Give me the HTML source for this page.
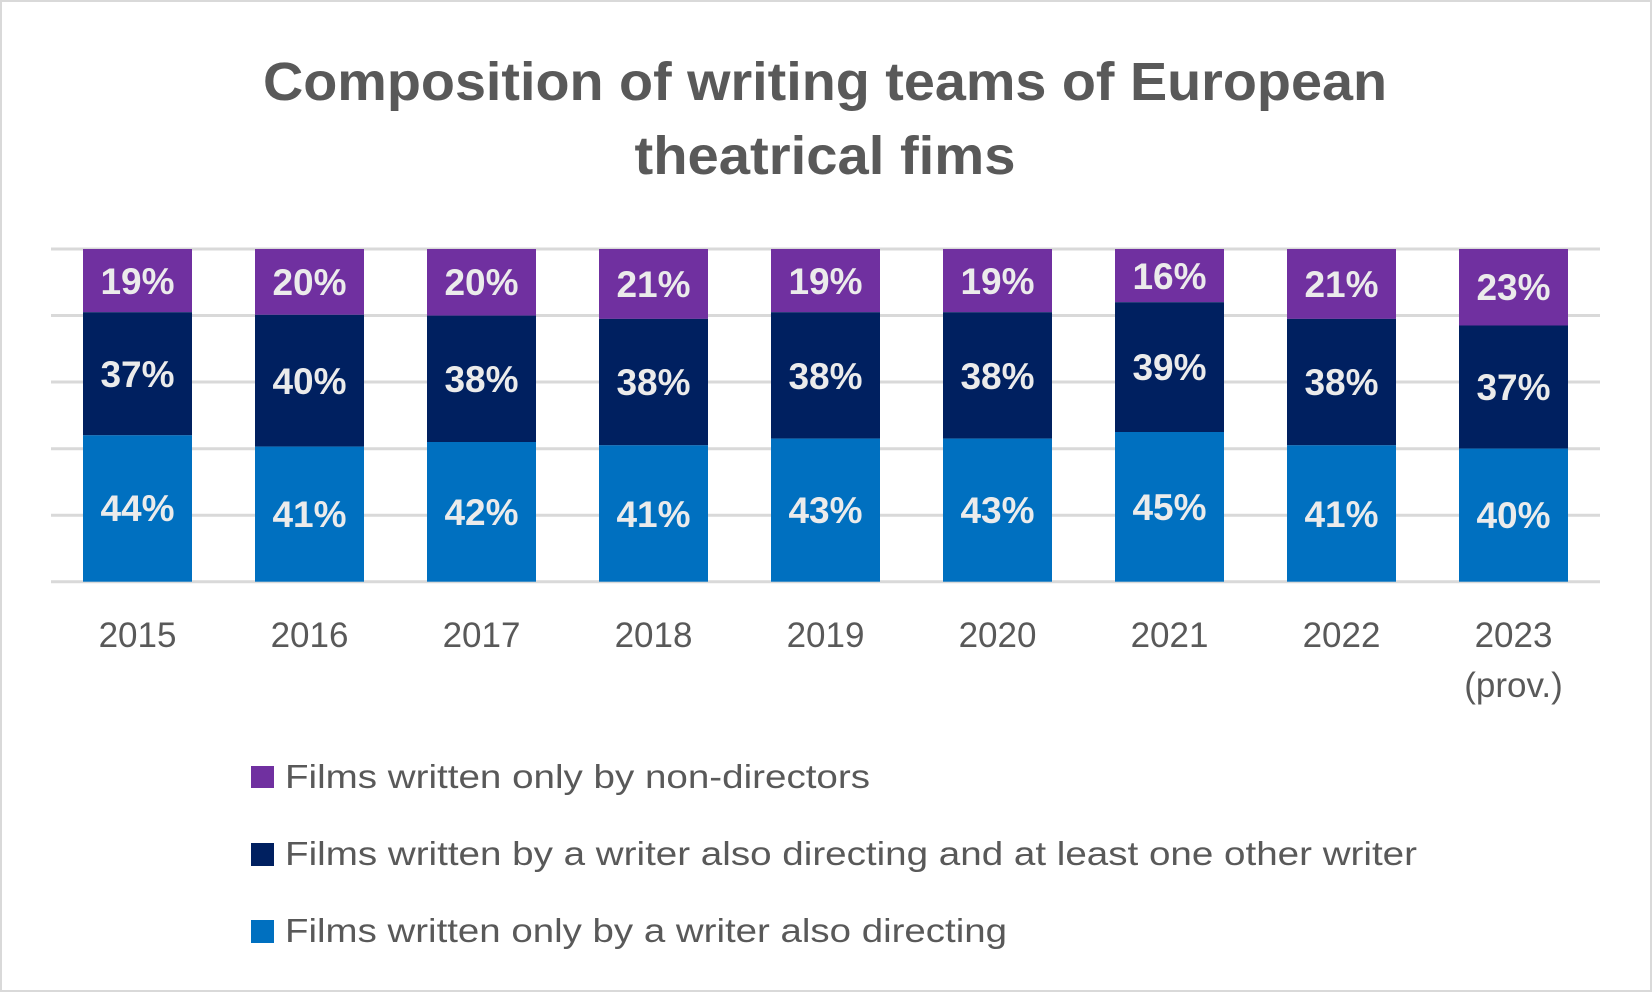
<!DOCTYPE html>
<html><head><meta charset="utf-8"><style>
html,body{margin:0;padding:0;background:#fff;}
svg{display:block;}
text{font-family:"Liberation Sans",sans-serif;}
</style></head><body>
<svg width="1652" height="992" viewBox="0 0 1652 992" xmlns="http://www.w3.org/2000/svg">
<rect x="1" y="1" width="1650" height="990" fill="#fff" stroke="#d9d9d9" stroke-width="2"/>
<g font-weight="bold" fill="#595959" font-size="54" text-anchor="middle">
<text x="825" y="100" textLength="1124" lengthAdjust="spacingAndGlyphs">Composition of writing teams of European</text>
<text x="825" y="174" textLength="381" lengthAdjust="spacingAndGlyphs">theatrical fims</text>
</g>
<g stroke="#d9d9d9" stroke-width="3">
<line x1="51" x2="1600" y1="249" y2="249"/>
<line x1="51" x2="1600" y1="315.5" y2="315.5"/>
<line x1="51" x2="1600" y1="382" y2="382"/>
<line x1="51" x2="1600" y1="448.7" y2="448.7"/>
<line x1="51" x2="1600" y1="515.3" y2="515.3"/>
<line x1="51" x2="1600" y1="581.7" y2="581.7"/>
</g>
<g>
<!-- x, blueY, navyY -->
<rect x="83" y="249" width="109" height="63.2" fill="#7030A0"/><rect x="83" y="312.2" width="109" height="123.1" fill="#002060"/><rect x="83" y="435.3" width="109" height="146.4" fill="#0070C0"/>
<rect x="255" y="249" width="109" height="65.8" fill="#7030A0"/><rect x="255" y="314.8" width="109" height="131.8" fill="#002060"/><rect x="255" y="446.6" width="109" height="135.1" fill="#0070C0"/>
<rect x="427" y="249" width="109" height="66.6" fill="#7030A0"/><rect x="427" y="315.6" width="109" height="126.4" fill="#002060"/><rect x="427" y="442" width="109" height="139.7" fill="#0070C0"/>
<rect x="599" y="249" width="109" height="69.9" fill="#7030A0"/><rect x="599" y="318.9" width="109" height="126.4" fill="#002060"/><rect x="599" y="445.3" width="109" height="136.4" fill="#0070C0"/>
<rect x="771" y="249" width="109" height="63.2" fill="#7030A0"/><rect x="771" y="312.2" width="109" height="126.4" fill="#002060"/><rect x="771" y="438.6" width="109" height="143.1" fill="#0070C0"/>
<rect x="943" y="249" width="109" height="63.2" fill="#7030A0"/><rect x="943" y="312.2" width="109" height="126.4" fill="#002060"/><rect x="943" y="438.6" width="109" height="143.1" fill="#0070C0"/>
<rect x="1115" y="249" width="109" height="53.2" fill="#7030A0"/><rect x="1115" y="302.2" width="109" height="129.8" fill="#002060"/><rect x="1115" y="432" width="109" height="149.7" fill="#0070C0"/>
<rect x="1287" y="249" width="109" height="69.9" fill="#7030A0"/><rect x="1287" y="318.9" width="109" height="126.4" fill="#002060"/><rect x="1287" y="445.3" width="109" height="136.4" fill="#0070C0"/>
<rect x="1459" y="249" width="109" height="76.5" fill="#7030A0"/><rect x="1459" y="325.5" width="109" height="123.1" fill="#002060"/><rect x="1459" y="448.6" width="109" height="133.1" fill="#0070C0"/>
</g>
<g font-weight="bold" fill="#ebebeb" font-size="37" text-anchor="middle">
<text x="137.5" y="294">19%</text><text x="137.5" y="387">37%</text><text x="137.5" y="521">44%</text>
<text x="309.5" y="295">20%</text><text x="309.5" y="394">40%</text><text x="309.5" y="527">41%</text>
<text x="481.5" y="295">20%</text><text x="481.5" y="392">38%</text><text x="481.5" y="525">42%</text>
<text x="653.5" y="297">21%</text><text x="653.5" y="395">38%</text><text x="653.5" y="527">41%</text>
<text x="825.5" y="294">19%</text><text x="825.5" y="389">38%</text><text x="825.5" y="523">43%</text>
<text x="997.5" y="294">19%</text><text x="997.5" y="389">38%</text><text x="997.5" y="523">43%</text>
<text x="1169.5" y="289">16%</text><text x="1169.5" y="380">39%</text><text x="1169.5" y="520">45%</text>
<text x="1341.5" y="297">21%</text><text x="1341.5" y="395">38%</text><text x="1341.5" y="527">41%</text>
<text x="1513.5" y="300">23%</text><text x="1513.5" y="400">37%</text><text x="1513.5" y="528">40%</text>
</g>
<g fill="#595959" font-size="35" text-anchor="middle">
<text x="137.5" y="647">2015</text><text x="309.5" y="647">2016</text><text x="481.5" y="647">2017</text>
<text x="653.5" y="647">2018</text><text x="825.5" y="647">2019</text><text x="997.5" y="647">2020</text>
<text x="1169.5" y="647">2021</text><text x="1341.5" y="647">2022</text><text x="1513.5" y="647">2023</text>
<text x="1513.5" y="697">(prov.)</text>
</g>
<rect x="251" y="766" width="23" height="22" fill="#7030A0"/>
<rect x="251" y="843" width="23" height="23" fill="#002060"/>
<rect x="251" y="920" width="23" height="23" fill="#0070C0"/>
<g fill="#595959" font-size="33">
<text x="285" y="788" textLength="585" lengthAdjust="spacingAndGlyphs">Films written only by non-directors</text>
<text x="285" y="865" textLength="1132" lengthAdjust="spacingAndGlyphs">Films written by a writer also directing and at least one other writer</text>
<text x="285" y="942" textLength="722" lengthAdjust="spacingAndGlyphs">Films written only by a writer also directing</text>
</g>
</svg>
</body></html>
